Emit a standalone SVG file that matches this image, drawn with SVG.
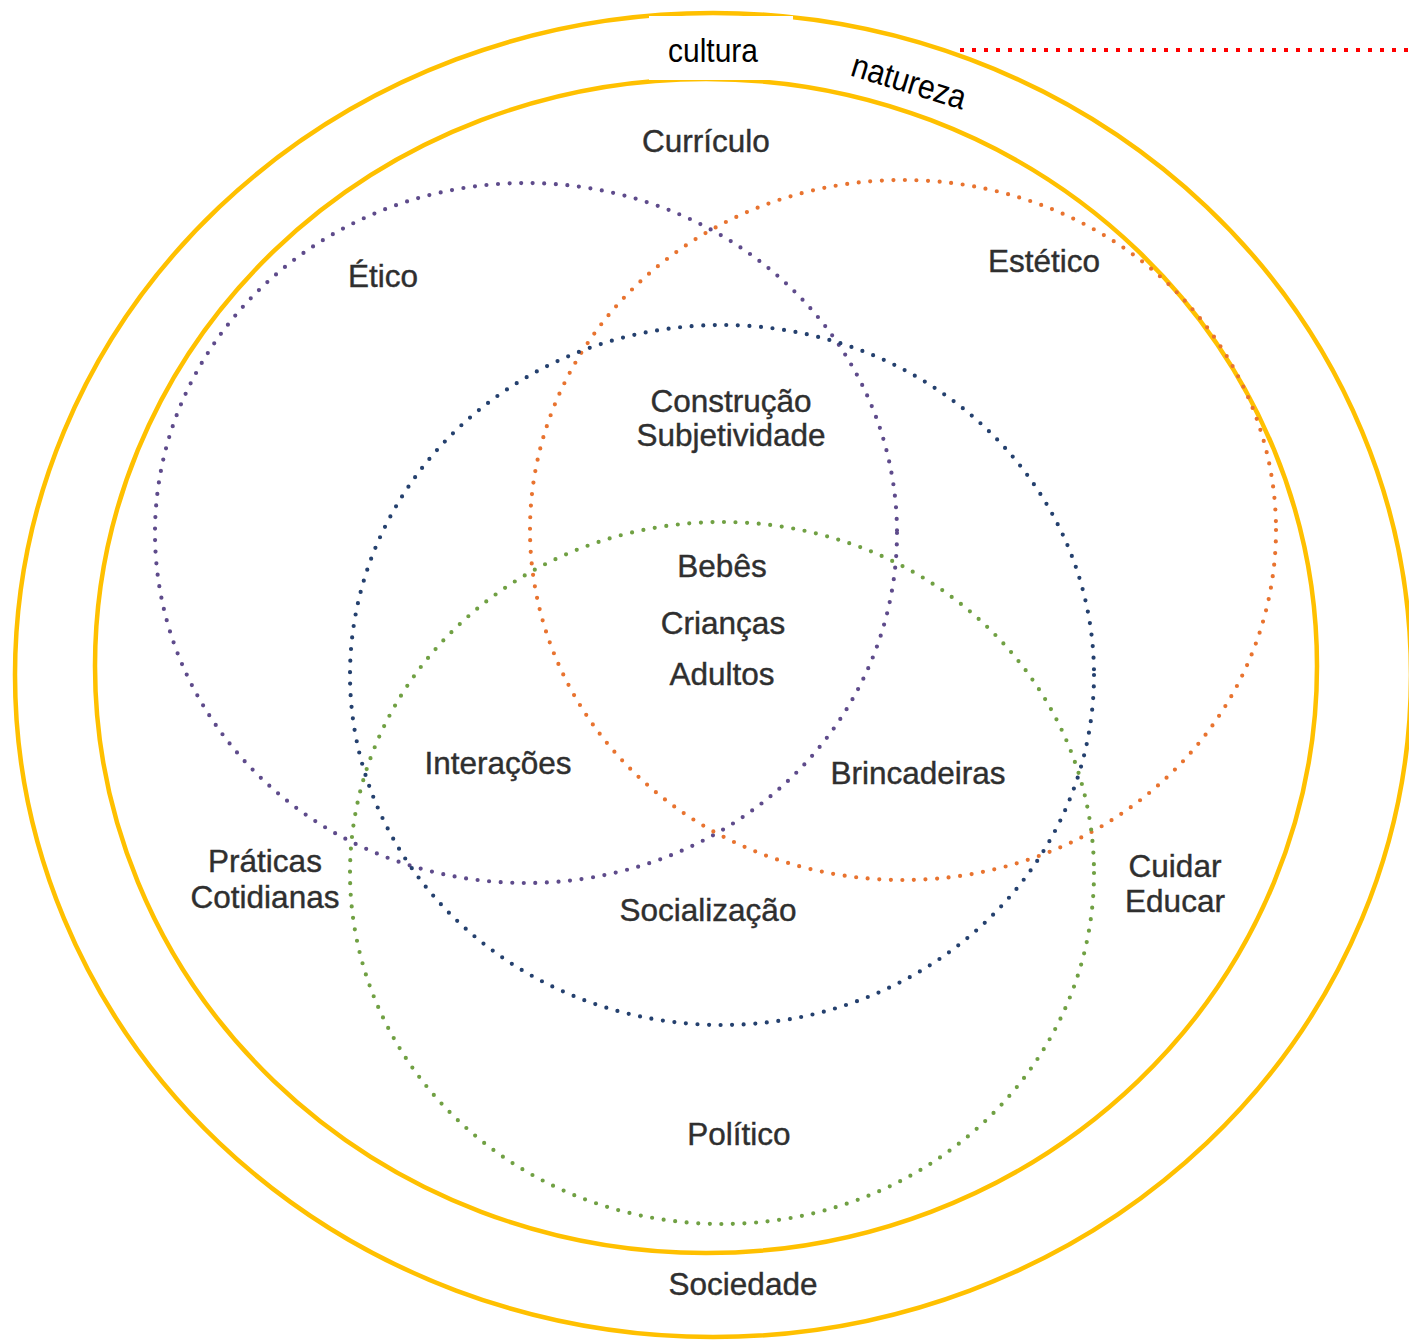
<svg xmlns="http://www.w3.org/2000/svg" width="1409" height="1340" viewBox="0 0 1409 1340">
<style>
.gold{fill:none;stroke:#FFC000;stroke-width:4.5}
.dot{fill:none;stroke-width:4.2;stroke-linecap:round;stroke-dasharray:0 11.6}
.lbl{font-family:"Liberation Sans",Arial,sans-serif;font-size:31.5px;fill:#2f2f2f;stroke:#2f2f2f;stroke-width:0.4;text-anchor:middle}
.nar{font-family:"Liberation Sans Narrow","Liberation Sans",Arial,sans-serif;font-size:34px;fill:#000;text-anchor:middle}
</style>
<rect width="1409" height="1340" fill="#fff"/>
<g id="connectors">
<line x1="960" y1="50" x2="1409" y2="50" stroke="#FF0000" stroke-width="4" stroke-dasharray="4 8"/>
</g>
<g id="sociedade-ring"><ellipse class="gold" cx="713" cy="675" rx="698" ry="662"/></g>
<g id="curriculo-ring"><ellipse class="gold" cx="706" cy="666" rx="611" ry="587"/></g>
<g id="cultura-box"><rect x="649" y="16" width="144" height="64" fill="#fff"/>
<text class="nar" x="713" y="62" textLength="90" lengthAdjust="spacingAndGlyphs">cultura</text></g>
<g id="natureza"><text class="nar" x="909" y="93" transform="rotate(17 909 82)" textLength="118" lengthAdjust="spacingAndGlyphs">natureza</text></g>
<g id="etico"><ellipse class="dot" stroke="#5E4B8B" cx="526" cy="533" rx="371" ry="350"/></g>
<g id="estetico"><ellipse class="dot" stroke="#E8732F" cx="903" cy="530" rx="373" ry="350"/></g>
<g id="subjetividade"><ellipse class="dot" stroke="#24406E" cx="722" cy="675" rx="372" ry="350"/></g>
<g id="politico"><ellipse class="dot" stroke="#70A043" cx="722" cy="873" rx="372" ry="351"/></g>
<g id="labels">
<text class="lbl" x="706" y="152">Currículo</text>
<text class="lbl" x="383" y="287">Ético</text>
<text class="lbl" x="1044" y="272">Estético</text>
<text class="lbl" x="731" y="412">Construção</text>
<text class="lbl" x="731" y="446">Subjetividade</text>
<text class="lbl" x="722" y="577">Bebês</text>
<text class="lbl" x="723" y="634">Crianças</text>
<text class="lbl" x="722" y="685">Adultos</text>
<text class="lbl" x="498" y="774">Interações</text>
<text class="lbl" x="918" y="784">Brincadeiras</text>
<text class="lbl" x="708" y="921">Socialização</text>
<text class="lbl" x="739" y="1145">Político</text>
<text class="lbl" x="743" y="1295">Sociedade</text>
<text class="lbl" x="265" y="872">Práticas</text>
<text class="lbl" x="265" y="908">Cotidianas</text>
<text class="lbl" x="1175" y="877">Cuidar</text>
<text class="lbl" x="1175" y="912">Educar</text>
</g>
</svg>
